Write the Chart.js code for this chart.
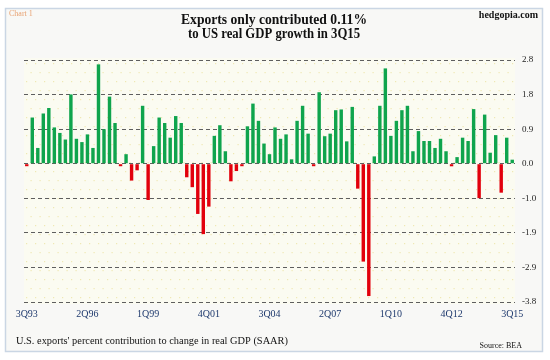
<!DOCTYPE html>
<html>
<head>
<meta charset="utf-8">
<script src="https://cdn.jsdelivr.net/npm/chart.js@4.4.1/dist/chart.umd.min.js"></script>
<style>
  body { margin: 0; background: #fff; }
  #wrap { width: 550px; height: 360px; }
</style>
</head>
<body>
<div id="wrap"><canvas id="gdpChart" width="550" height="360"></canvas></div>
<script>
// quarterly contribution of exports to real GDP growth, 3Q93 .. 3Q15
const exportsContribution = [
  -0.05, 1.26, 0.43, 1.37, 1.52, 0.99, 0.84, 0.66, 1.89, 0.68,
  0.59, 0.80, 0.43, 2.71, 0.94, 1.83, 1.11, -0.04, 0.26, -0.46,
  -0.18, 1.58, -0.99, 0.48, 1.26, 1.11, 0.71, 1.30, 1.11, -0.37,
  -0.64, -1.37, -1.92, -1.17, 0.76, 1.05, 0.34, -0.48, -0.20, -0.03,
  1.02, 1.64, 1.17, 0.55, 0.26, 0.99, 0.68, 0.80, 0.12, 1.17,
  1.58, 0.82, -0.05, 1.95, 0.75, 0.82, 1.46, 1.48, 0.61, 1.55,
  -0.68, -2.67, -3.61, 0.20, 1.58, 2.60, 0.76, 1.17, 1.46, 1.58,
  0.34, 0.89, 0.62, 0.62, 0.43, 0.68, 0.34, -0.07, 0.18, 0.71,
  0.62, 1.49, -0.94, 1.34, 0.30, 0.78, -0.79, 0.71, 0.11
];
const xTickLabels = ['3Q93', '2Q96', '1Q99', '4Q01', '3Q04', '2Q07', '1Q10', '4Q12', '3Q15'];
const yTickLabels = ['-3.8', '-2.9', '-1.9', '-1.0', '0.0', '0.9', '1.8', '2.8'];
const yStep = 0.943;
const yTickValues = [-4, -3, -2, -1, 0, 1, 2, 3].map(k => k * yStep);

// quarter names for every bar, starting at 3Q93
const quarters = [];
for (let i = 0; i < exportsContribution.length; i++) {
  const q = (2 + i) % 4 + 1;
  const yr = 1993 + Math.floor((2 + i) / 4);
  quarters.push(q + 'Q' + String(yr).slice(2));
}

const GREEN = '#0fa44d';
const RED = '#e2000c';
const SERIF = '"Liberation Serif", "DejaVu Serif", serif';

const frameAndText = {
  id: 'frameAndText',
  beforeDraw(chart) {
    const ctx = chart.ctx;
    const a = chart.chartArea;
    ctx.save();
    ctx.fillStyle = '#ffffff';
    ctx.fillRect(0, 0, chart.width, chart.height);
    ctx.fillStyle = '#f8f8f6';
    ctx.fillRect(5, 8, 537, 343);
    ctx.strokeStyle = '#cad6e4';
    ctx.lineWidth = 1.5;
    ctx.strokeRect(5.5, 8.5, 537, 343);
    // plot area with faint yellow dots
    ctx.fillStyle = '#fbfbf1';
    ctx.fillRect(a.left, a.top - 2, a.right - a.left, a.bottom - a.top + 4);
    ctx.fillStyle = '#efe8b4';
    for (let y = a.top + 3; y < a.bottom; y += 9) {
      const shift = (Math.round((y - a.top) / 9) % 2) * 4.5;
      for (let x = a.left + 2 + shift; x < a.right; x += 9) {
        ctx.fillRect(x, y, 1.2, 1.2);
      }
    }
    ctx.restore();
  },
  afterDraw(chart) {
    const ctx = chart.ctx;
    ctx.save();
    ctx.textBaseline = 'middle';
    ctx.fillStyle = '#e8a272';
    ctx.textAlign = 'left';
    ctx.font = '8px ' + SERIF;
    ctx.fillText('Chart 1', 9, 14, 26);

    ctx.fillStyle = '#111';
    ctx.textAlign = 'right';
    ctx.font = 'bold 10px ' + SERIF;
    ctx.fillText('hedgopia.com', 538, 15, 66);

    ctx.textAlign = 'center';
    ctx.font = 'bold 14px ' + SERIF;
    ctx.fillText('Exports only contributed 0.11%', 274, 20, 186);
    ctx.fillText('to US real GDP growth in 3Q15', 274, 34, 172);

    ctx.textAlign = 'left';
    ctx.font = '10.5px ' + SERIF;
    ctx.fillText("U.S. exports' percent contribution to change in real GDP (SAAR)", 16, 341, 272);

    ctx.textAlign = 'right';
    ctx.font = '8px ' + SERIF;
    ctx.fillText('Source: BEA', 522, 346, 44);
    ctx.restore();
  }
};

new Chart(document.getElementById('gdpChart'), {
  type: 'bar',
  data: {
    labels: quarters,
    datasets: [{
      data: exportsContribution,
      backgroundColor: exportsContribution.map(v => v < 0 ? RED : GREEN),
      barPercentage: 0.62,
      categoryPercentage: 1.0,
      minBarLength: 2.5
    }]
  },
  options: {
    responsive: false,
    devicePixelRatio: 1,
    animation: false,
    layout: { padding: { left: 24, top: 60, right: 0, bottom: 40 } },
    plugins: {
      legend: { display: false },
      tooltip: { enabled: false }
    },
    scales: {
      x: {
        grid: { display: false, drawTicks: false },
        border: { display: false },
        afterFit: scale => { scale.height = 18; },
        ticks: {
          autoSkip: false,
          maxRotation: 0,
          padding: 6,
          color: '#1f3a6e',
          font: { family: SERIF, size: 10 },
          callback: (value, index) => index % 11 === 0 ? xTickLabels[index / 11] : ''
        }
      },
      y: {
        position: 'right',
        min: yTickValues[0],
        max: yTickValues[yTickValues.length - 1],
        afterBuildTicks: scale => { scale.ticks = yTickValues.map(v => ({ value: v })); },
        afterFit: scale => { scale.width = 35; },
        grid: { color: '#5e5e5e', lineWidth: 1, drawTicks: false },
        border: { display: false, dash: [4, 3] },
        ticks: {
          padding: 7,
          color: '#222',
          font: { family: SERIF, size: 9 },
          callback: (value, index) => yTickLabels[index]
        }
      }
    }
  },
  plugins: [frameAndText]
});
</script>
</body>
</html>
